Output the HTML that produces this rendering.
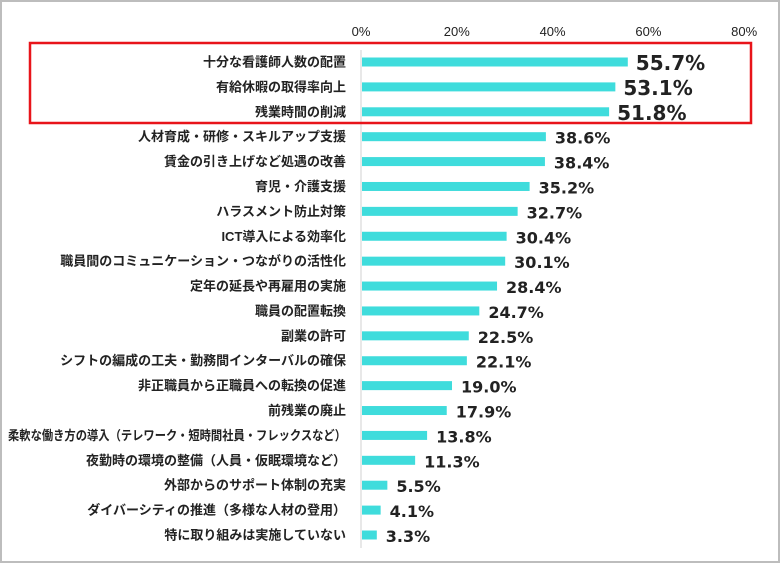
<!DOCTYPE html>
<html><head><meta charset="utf-8"><style>
html,body{margin:0;padding:0;background:#fff}
#wrap{position:relative;width:780px;height:563px;box-sizing:border-box;border:2px solid #bdbdbd;font-family:"Liberation Sans","Noto Sans CJK JP",sans-serif}
svg text{font-family:"Liberation Sans","Noto Sans CJK JP",sans-serif}
svg text.val{font-family:"DejaVu Sans",sans-serif}
</style></head><body>
<div id="wrap">
<svg id="chart" width="776" height="559" style="position:absolute;left:0;top:0"></svg>
</div>
<script>
const categories=["十分な看護師人数の配置","有給休暇の取得率向上","残業時間の削減","人材育成・研修・スキルアップ支援","賃金の引き上げなど処遇の改善","育児・介護支援","ハラスメント防止対策","ICT導入による効率化","職員間のコミュニケーション・つながりの活性化","定年の延長や再雇用の実施","職員の配置転換","副業の許可","シフトの編成の工夫・勤務間インターバルの確保","非正職員から正職員への転換の促進","前残業の廃止","柔軟な働き方の導入（テレワーク・短時間社員・フレックスなど）","夜勤時の環境の整備（人員・仮眠環境など）","外部からのサポート体制の充実","ダイバーシティの推進（多様な人材の登用）","特に取り組みは実施していない"];
const values=[55.7,53.1,51.8,38.6,38.4,35.2,32.7,30.4,30.1,28.4,24.7,22.5,22.1,19.0,17.9,13.8,11.3,5.5,4.1,3.3];
const ticks=[0,20,40,60,80];
const x=v=>359+v*4.79;
const n=values.length;
const rowY=i=>60+i*((533-60)/(n-1));
const NS="http://www.w3.org/2000/svg";
const svg=document.getElementById('chart');
function mk(t,a){const e=document.createElementNS(NS,t);for(const k in a)e.setAttribute(k,a[k]);svg.appendChild(e);return e;}
ticks.forEach(t=>{const e=mk('text',{x:x(t),y:34,'text-anchor':'middle','font-size':13,fill:'#222'});e.textContent=t+'%';

});
const ax=mk('line',{x1:x(0),x2:x(0),y1:48,y2:546,stroke:'#d0d0d0','stroke-width':1});


values.forEach((v,i)=>{
 const cy=rowY(i);
 const b=mk('rect',{x:x(0)+1,y:cy-4.5,width:x(v)-x(0)-1,height:9,fill:'#3fdcdc'});
 
 
 const l=mk('text',{x:344,y:cy+4.5,'text-anchor':'end','font-size':13,'font-weight':'bold',fill:'#222'});l.textContent=categories[i];
 
 
 const w=l.getComputedTextLength();
 if(w>338){l.setAttribute('textLength',338);l.setAttribute('lengthAdjust','spacingAndGlyphs');}
 const big=i<3;
 const vl=mk('text',{x:x(v)+(big?8:9),y:cy+(big?8:7),'font-size':big?20:16,'font-weight':'bold',fill:'#222','class':'val'});vl.textContent=v.toFixed(1)+'%';
 
 
});
const hb=mk('rect',{x:28,y:41,width:721,height:80,fill:'none',stroke:'#e8141a','stroke-width':2.5});


</script>
</body></html>
